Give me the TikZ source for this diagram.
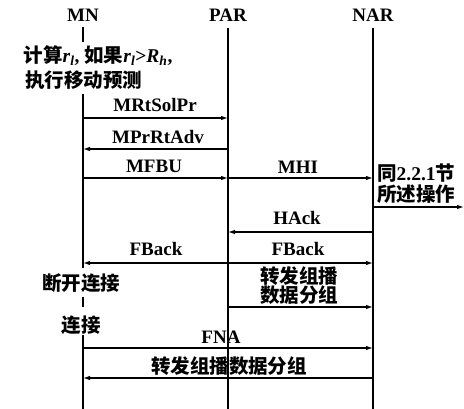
\documentclass[tikz,border=0pt]{standalone}
\usepackage{fontspec}
\setmainfont{Liberation Serif}
\newfontfamily\cjk{Noto Sans CJK SC}
\usetikzlibrary{arrows.meta}
\begin{document}
\begin{tikzpicture}[x=1pt,y=-1pt,
  life/.style={line width=1.2pt},
  msg/.style={line width=1.2pt,-{Latex[length=7pt,width=4.5pt]}},
  lbl/.style={inner sep=0pt,font=\bfseries\fontsize{19}{19}\selectfont},
  clbl/.style={inner sep=0pt,font=\cjk\bfseries\fontsize{19.5}{19.5}\selectfont}]
\useasboundingbox (0,0) rectangle (464,409);
% headers
\node[lbl] (mn) at (83,15) {MN};
\node[lbl] (par) at (228,15) {PAR};
\node[lbl] (nar) at (373,15) {NAR};
% lifeline coordinates
\coordinate (mnA) at (83,27);  \coordinate (mnB) at (83,42);
\coordinate (mnC) at (83,94);  \coordinate (mnD) at (83,268);
\coordinate (mnE) at (83,297); \coordinate (mnF) at (83,307);
\coordinate (mnG) at (83,335); \coordinate (mnH) at (83,409);
\coordinate (parA) at (228,28); \coordinate (parB) at (228,409);
\coordinate (narA) at (373,28); \coordinate (narB) at (373,409);
\draw[life] (mnA) -- (mnB);
\draw[life] (mnC) -- (mnD);
\draw[life] (mnE) -- (mnF);
\draw[life] (mnG) -- (mnH);
\draw[life] (parA) -- (parB);
\draw[life] (narA) -- (narB);
% side texts
\node[inner sep=0pt,font=\bfseries\fontsize{19.5}{19.5}\selectfont] (calc) at (98,56)
  {{\cjk 计算}\textit{r}\textsubscript{\textit{l}}, {\cjk 如果}\textit{r}\textsubscript{\textit{l}}>\textit{R}\textsubscript{\textit{h}},};
\node[clbl] (exec) at (84,80) {执行移动预测};
\node[clbl] (disc) at (81,283) {断开连接};
\node[clbl] (conn) at (81,325) {连接};
\node[clbl,anchor=west] (same1) at (377,173) {同{\rmfamily\bfseries 2.2.1}节};
\node[clbl,anchor=west] (same2) at (377,194) {所述操作};
% message coordinates
\coordinate (m1a) at (83,118);  \coordinate (m1b) at (228,118);
\coordinate (m2a) at (228,149); \coordinate (m2b) at (83,149);
\coordinate (m3a) at (83,178);  \coordinate (m3b) at (228,178);
\coordinate (m4b) at (373,178);
\coordinate (m5a) at (373,207); \coordinate (m5b) at (464,207);
\coordinate (m6a) at (373,232); \coordinate (m6b) at (228,232);
\coordinate (m7a) at (228,263); \coordinate (m7l) at (83,263); \coordinate (m7r) at (373,263);
\coordinate (m8a) at (228,307); \coordinate (m8b) at (373,307);
\coordinate (m9a) at (83,348);  \coordinate (m9b) at (373,348);
\coordinate (m10a) at (373,378); \coordinate (m10b) at (83,378);
% messages
\draw[msg] (m1a) -- (m1b);
\draw[msg] (m2a) -- (m2b);
\draw[msg] (m3a) -- (m3b);
\draw[msg] (m3b) -- (m4b);
\draw[msg] (m5a) -- (m5b);
\draw[msg] (m6a) -- (m6b);
\draw[msg] (m7a) -- (m7l);
\draw[msg] (m7a) -- (m7r);
\draw[msg] (m8a) -- (m8b);
\draw[msg] (m9a) -- (m9b);
\draw[msg] (m10a) -- (m10b);
% labels
\node[lbl] (l1) at (155,105) {MRtSolPr};
\node[lbl] (l2) at (158,137) {MPrRtAdv};
\node[lbl] (l3) at (154,166) {MFBU};
\node[lbl] (l4) at (298,167) {MHI};
\node[lbl] (l6) at (297,218) {HAck};
\node[lbl] (l7) at (156,249) {FBack};
\node[lbl] (l7b) at (298,249) {FBack};
\node[clbl] (l8a) at (299,276) {转发组播};
\node[clbl] (l8b) at (299,295) {数据分组};
\node[lbl] (l9) at (221,337) {FNA};
\node[clbl] (l10) at (229,366) {转发组播数据分组};
\end{tikzpicture}
\end{document}
